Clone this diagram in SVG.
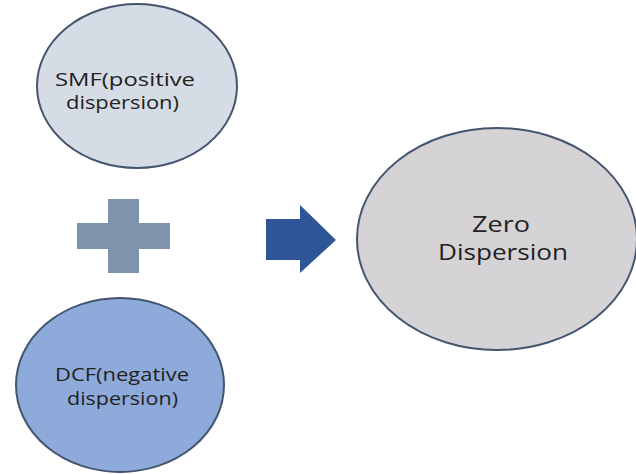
<svg xmlns="http://www.w3.org/2000/svg" width="636" height="474" viewBox="0 0 636 474">
  <style>
    .node { stroke: #44556e; stroke-width: 2; }
    .label { font-family: "Open Sans", "DejaVu Sans", sans-serif; fill: #222222; text-anchor: middle; }
    .small { font-size: 16px; }
    .big { font-size: 22px; }
  </style>
  <rect width="636" height="474" fill="#ffffff"/>

  <g id="smf">
    <ellipse class="node" cx="137" cy="86" rx="100" ry="82" fill="#d6dce5"/>
    <text class="label small" transform="translate(125,86) scale(1,1.12)" textLength="140" lengthAdjust="spacingAndGlyphs">SMF(positive</text>
    <text class="label small" transform="translate(122.5,109) scale(1,1.12)" textLength="113" lengthAdjust="spacingAndGlyphs">dispersion)</text>
  </g>

  <g id="dcf">
    <ellipse class="node" cx="120" cy="385" rx="104" ry="87" fill="#8eaadb"/>
    <text class="label small" transform="translate(122,381) scale(1,1.12)" textLength="134" lengthAdjust="spacingAndGlyphs">DCF(negative</text>
    <text class="label small" transform="translate(122.5,405) scale(1,1.12)" textLength="111" lengthAdjust="spacingAndGlyphs">dispersion)</text>
  </g>

  <g id="zero">
    <ellipse class="node" cx="497" cy="239" rx="140" ry="111" fill="#d5d3d5" stroke="#5f7389"/>
    <text class="label big" x="501" y="232" textLength="58" lengthAdjust="spacingAndGlyphs">Zero</text>
    <text class="label big" x="503" y="260" textLength="130" lengthAdjust="spacingAndGlyphs">Dispersion</text>
  </g>

  <g id="connectors">
    <!-- plus sign between the two fibres -->
    <path d="M108 199 H139 V223 H170 V249 H139 V273 H108 V249 H77 V223 H108 Z" fill="#7f93ad"/>
    <!-- block arrow to the result -->
    <path d="M266 219 H300 V205 L336 240 L300 273 V260 H266 Z" fill="#2e5597"/>
  </g>
</svg>
